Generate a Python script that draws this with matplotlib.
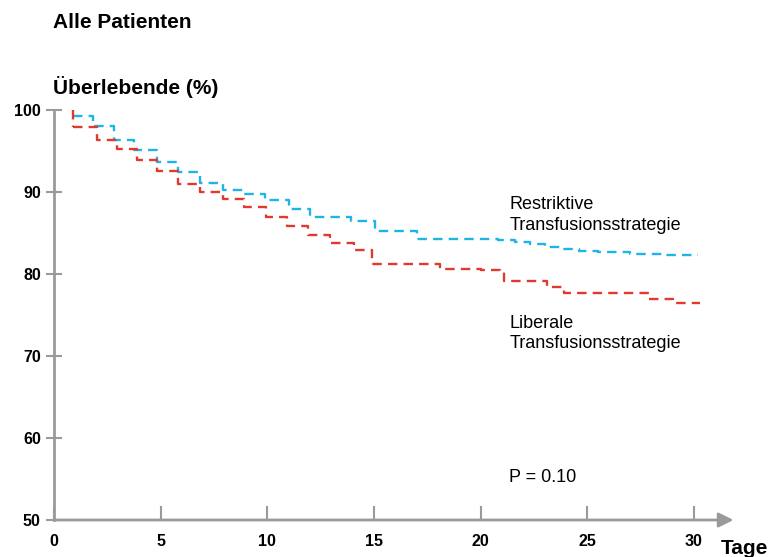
import matplotlib.pyplot as plt

plt.rcParams['font.family'] = ['Liberation Sans', 'DejaVu Sans']

# Kaplan-Meier style survival steps (day of event, survival % after it)
restrictive_days = [0, 0.9, 1.85, 2.8, 3.75, 4.85, 5.8, 6.85, 7.9, 8.9, 9.9, 11.0,
                    12.0, 13.9, 15.05, 17.0, 20.8, 21.6, 22.3, 23.0, 23.8, 24.6,
                    25.5, 27.0, 28.5, 30.2]
restrictive_surv = [100, 99.3, 98.0, 96.3, 95.1, 93.6, 92.4, 91.1, 90.3, 89.7, 89.0,
                    87.9, 86.9, 86.5, 85.3, 84.3, 84.1, 83.9, 83.6, 83.3, 83.0, 82.8,
                    82.7, 82.5, 82.3, 82.3]

liberal_days = [0, 0.9, 2.0, 2.95, 3.9, 4.85, 5.8, 6.85, 7.9, 8.9, 9.95, 10.9,
                11.9, 12.95, 14.05, 14.9, 18.1, 20.0, 20.9, 21.1, 23.1, 23.9,
                27.9, 29.0, 30.3]
liberal_surv = [100, 97.9, 96.4, 95.2, 93.9, 92.6, 91.0, 90.0, 89.1, 88.2, 86.9,
                85.9, 84.8, 83.8, 82.9, 81.2, 80.6, 80.5, 80.2, 79.2, 78.4, 77.7,
                77.0, 76.5, 76.5]

yticks = [50, 60, 70, 80, 90, 100]
xticks = [0, 5, 10, 15, 20, 25, 30]

gray = '#9a9a9a'
blue = '#1eb4e6'
red = '#e0392d'
dash = (0, (4, 2.6))

fig = plt.figure(figsize=(7.69, 5.57), dpi=100)
ax = fig.add_axes([54 / 769, 37 / 557, 672 / 769, 410 / 557])
ax.set_xlim(0, 31.5)
ax.set_ylim(50, 100)

ax.plot(restrictive_days[1:], restrictive_surv[1:], drawstyle='steps-post',
        color=blue, lw=1.7, ls=dash, clip_on=False)
ax.plot(liberal_days[1:], liberal_surv[1:], drawstyle='steps-post',
        color=red, lw=1.7, ls=dash, clip_on=False)
# red curve starts with a drop from 100 at day ~1
ax.plot([liberal_days[1], liberal_days[1]], [liberal_surv[0], liberal_surv[1]],
        color=red, lw=1.7, ls=dash, clip_on=False)

for s in ax.spines.values():
    s.set_visible(False)
ax.plot([0, 0], [50, 100], color=gray, lw=2, clip_on=False)
ax.annotate('', xy=(31.85, 50), xytext=(0, 50), xycoords='data',
            arrowprops=dict(arrowstyle='-|>', color=gray, lw=2,
                            mutation_scale=22, shrinkA=0, shrinkB=0),
            annotation_clip=False)

ax.set_yticks(yticks)
ax.set_xticks(xticks)
ax.tick_params(axis='y', direction='inout', length=11, width=1.5, color=gray,
               labelsize=11.5, pad=4)
ax.tick_params(axis='x', direction='in', length=10, width=1.5, color=gray,
               labelsize=11.5, pad=10)
for lab in ax.get_xticklabels() + ax.get_yticklabels():
    lab.set_fontweight('bold')

fig.text(53 / 769, 1 - 23 / 557, 'Alle Patienten', fontsize=15,
         fontweight='bold', va='center', ha='left')
fig.text(53 / 769, 1 - 87 / 557, 'Überlebende (%)', fontsize=15,
         fontweight='bold', va='center', ha='left')
fig.text(721 / 769, 1 - 548 / 557, 'Tage', fontsize=15,
         fontweight='bold', va='center', ha='left')

ax.text(21.35, 87.2, 'Restriktive\nTransfusionsstrategie', fontsize=13,
        va='center', ha='left', linespacing=1.25)
ax.text(21.35, 72.7, 'Liberale\nTransfusionsstrategie', fontsize=13,
        va='center', ha='left', linespacing=1.25)
ax.text(21.35, 55.2, 'P = 0.10', fontsize=13, va='center', ha='left')

fig.savefig('out.png', dpi=100)
